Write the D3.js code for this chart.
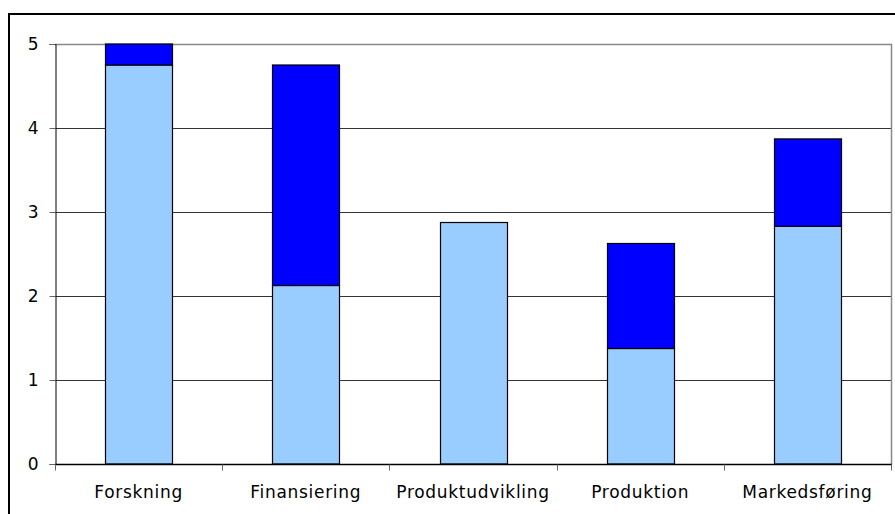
<!DOCTYPE html>
<html>
<head>
<meta charset="utf-8">
<script src="https://cdn.jsdelivr.net/npm/d3@7"></script>
<style>
  html, body { margin: 0; padding: 0; background: #fff; }
  svg { display: block; }
  .lbl, .tick text { font-family: "DejaVu Sans", Verdana, sans-serif; font-size: 17px; fill: #000; }
  .lbl { letter-spacing: 0.7px; }
</style>
</head>
<body>
<svg id="chart" width="895" height="514"></svg>
<script>
// Stacked columns: base share (light) and additional share (dark) per activity
const categories = ["Forskning", "Finansiering", "Produktudvikling", "Produktion", "Markedsføring"];
const baseValues = [4.75, 2.125, 2.875, 1.375, 2.83];
const extraValues = [0.25, 2.625, 0, 1.25, 1.04];
const yTicks = [0, 1, 2, 3, 4, 5];
const seriesKeys = ["base", "extra"];
const seriesColors = ["#99CCFF", "#0000FF"];

const rows = categories.map((c, i) => ({ category: c, base: baseValues[i], extra: extraValues[i] }));

const svg = d3.select("#chart");
const plot = { left: 55, right: 891, top: 44, bottom: 464 };

// Outer chart frame
svg.append("rect")
  .attr("x", 9).attr("y", 14)
  .attr("width", 1000).attr("height", 600)
  .attr("fill", "none").attr("stroke", "#000").attr("stroke-width", 2);

const x = d3.scaleBand()
  .domain(categories)
  .range([plot.left, plot.right])
  .paddingInner(0.6)
  .paddingOuter(0.3);

const y = d3.scaleLinear().domain([0, 5]).range([plot.bottom, plot.top]);

// Horizontal gridlines
svg.append("g")
  .selectAll("line")
  .data(yTicks.filter(t => t > 0 && t < 5))
  .join("line")
  .attr("x1", plot.left).attr("x2", plot.right)
  .attr("y1", d => y(d) + 0.5).attr("y2", d => y(d) + 0.5)
  .attr("stroke", "#333").attr("stroke-width", 1);

// Plot area border (top and right)
svg.append("path")
  .attr("d", `M${plot.left},${y(5) + 0.5}H${plot.right + 0.5}V${plot.bottom}`)
  .attr("fill", "none").attr("stroke", "#888").attr("stroke-width", 1.5);

// Stacked bars
const stack = d3.stack().keys(seriesKeys)(rows);
svg.append("g")
  .selectAll("g")
  .data(stack)
  .join("g")
  .attr("fill", (d, i) => seriesColors[i])
  .selectAll("rect")
  .data(d => d.filter(p => p[1] - p[0] > 0))
  .join("rect")
  .attr("x", d => Math.round(x(d.data.category)) + 0.5)
  .attr("width", Math.round(x.bandwidth()))
  .attr("y", d => y(d[1]))
  .attr("height", d => y(d[0]) - y(d[1]))
  .attr("stroke", "#000").attr("stroke-width", 1.2);

// Y axis
const yAxis = svg.append("g")
  .attr("transform", `translate(${plot.left + 0.5},0)`)
  .call(d3.axisLeft(y).tickValues(yTicks).tickFormat(d3.format("d")).tickSize(6).tickPadding(11));
yAxis.attr("font-size", null).attr("font-family", null);
yAxis.select(".domain").attr("stroke", "#000");
yAxis.selectAll(".tick line").attr("stroke", "#666");
yAxis.selectAll(".tick text").attr("fill", "#000");

// X axis with category boundary ticks
const xAxis = svg.append("g")
  .attr("transform", `translate(0,${plot.bottom + 0.5})`);
xAxis.append("line")
  .attr("x1", plot.left).attr("x2", plot.right + 1)
  .attr("stroke", "#000").attr("stroke-width", 1.5);
const step = x.step();
const boundaries = d3.range(categories.length + 1).map(i => plot.left + i * step);
xAxis.selectAll(".bound")
  .data(boundaries)
  .join("line")
  .attr("class", "bound")
  .attr("x1", d => Math.round(d) + 0.5).attr("x2", d => Math.round(d) + 0.5)
  .attr("y1", 0).attr("y2", 6)
  .attr("stroke", "#666");
xAxis.selectAll(".lbl")
  .data(categories)
  .join("text")
  .attr("class", "lbl")
  .attr("x", d => x(d) + x.bandwidth() / 2)
  .attr("y", 33)
  .attr("text-anchor", "middle")
  .text(d => d);
</script>
</body>
</html>
